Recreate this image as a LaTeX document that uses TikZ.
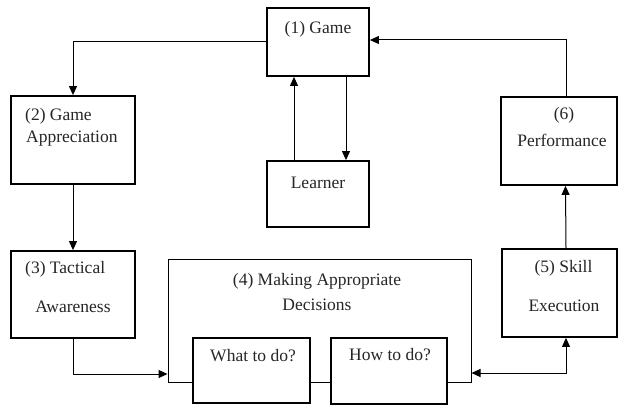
\documentclass[tikz,border=0pt]{standalone}
\usepackage{fontspec}
\setmainfont{Liberation Serif}
\usetikzlibrary{arrows.meta}
\begin{document}
\begin{tikzpicture}[x=1pt,y=-1pt,
  box/.style={draw=black,line width=1.8pt,fill=white,inner sep=0pt},
  thinbox/.style={draw=black,line width=1pt,inner sep=0pt},
  lbl/.style={inner sep=0pt,font=\fontsize{17.5}{21}\selectfont,text=black!85},
  arr/.style={line width=1pt,-{Triangle[length=9pt,width=8pt]}},
  darr/.style={line width=1pt,{Triangle[length=9pt,width=8pt]}-{Triangle[length=9pt,width=8pt]}}]
\useasboundingbox (0,0) rectangle (619,406);
% boxes
\node[box,minimum width=102pt,minimum height=68pt] (game) at (318,42) {};
\node[box,minimum width=102pt,minimum height=66pt] (learner) at (318,194) {};
\node[box,minimum width=124pt,minimum height=88pt] (app) at (73,140) {};
\node[box,minimum width=116pt,minimum height=88pt] (perf) at (559,141) {};
\node[box,minimum width=124pt,minimum height=87pt] (tact) at (73,294.5) {};
\node[box,minimum width=115pt,minimum height=88pt] (skill) at (559.5,293) {};
\node[thinbox,minimum width=303pt,minimum height=122pt] (making) at (319.5,321) {};
\node[box,minimum width=117pt,minimum height=65pt] (what) at (251.5,370.5) {};
\node[box,minimum width=116pt,minimum height=66pt] (how) at (389,371) {};
% labels
\node[lbl] (tgame) at (318,29) {(1) Game};
\node[lbl] (tlearner) at (318,183) {Learner};
\node[lbl,anchor=west] (tapp1) at (25,116) {(2) Game};
\node[lbl,anchor=west] (tapp2) at (26,139) {Appreciation};
\node[lbl] (tperf1) at (564,115) {(6)};
\node[lbl] (tperf2) at (562,140) {Performance};
\node[lbl,anchor=west] (ttact1) at (25,269) {(3) Tactical};
\node[lbl] (ttact2) at (73,307) {Awareness};
\node[lbl] (tskill1) at (563.5,268) {(5) Skill};
\node[lbl] (tskill2) at (564,306) {Execution};
\node[lbl] (tmak1) at (317,281) {(4) Making Appropriate};
\node[lbl] (tmak2) at (317,305) {Decisions};
\node[lbl] (twhat) at (253,356) {What to do?};
\node[lbl] (thow) at (390,355) {How to do?};
% connectors
\draw[arr] (game.west) -| (app.north);
\draw[arr] ([xshift=7pt]perf.north) |- ([yshift=2pt]game.east);
\draw[arr] ([xshift=-24pt]learner.north) -- ([xshift=-24pt]game.south);
\draw[arr] ([xshift=28pt]game.south) -- ([xshift=28pt]learner.north);
\draw[arr] (app.south) -- (tact.north);
\draw[arr] (tact.south) |- ([yshift=-53pt]making.west);
\draw[arr] ([xshift=6.5pt]skill.north) -- ([xshift=6.5pt]perf.south);
\draw[darr] ([yshift=-52pt]making.east) -| ([xshift=6.5pt]skill.south);
\end{tikzpicture}
\end{document}
